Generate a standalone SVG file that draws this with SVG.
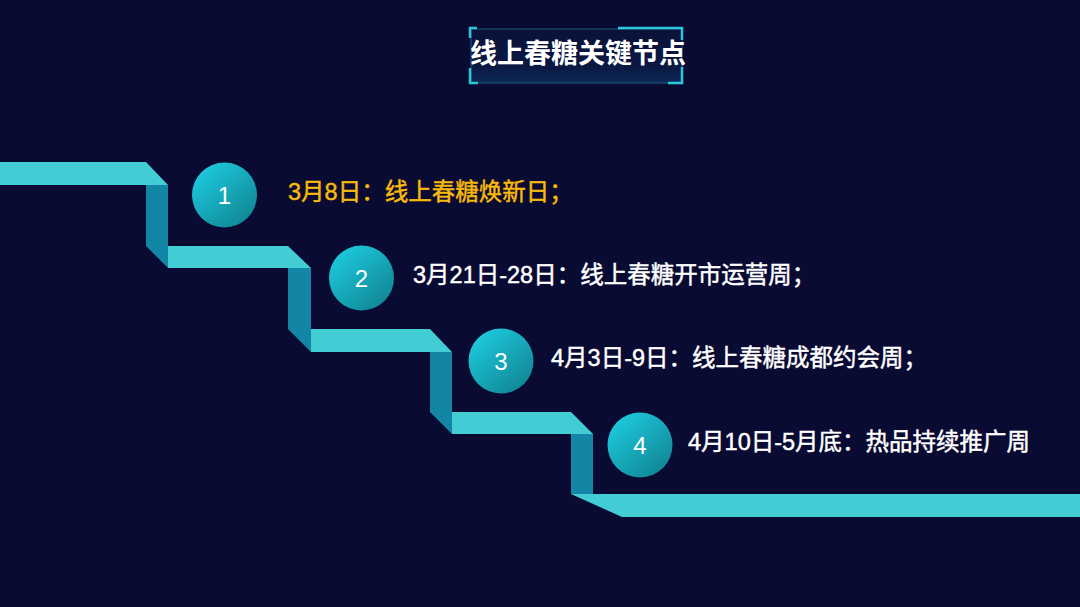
<svg xmlns="http://www.w3.org/2000/svg" width="1080" height="607" viewBox="0 0 1080 607">
  <defs>
    <linearGradient id="ballGrad" x1="0.15" y1="0.1" x2="0.85" y2="0.9">
      <stop offset="0" stop-color="#1DC8DC"/>
      <stop offset="1" stop-color="#108896"/>
    </linearGradient>
    <linearGradient id="boxGrad" x1="0" y1="0" x2="0" y2="1">
      <stop offset="0" stop-color="#0A1238"/>
      <stop offset="0.7" stop-color="#0B1842"/>
      <stop offset="1" stop-color="#0E2A58"/>
    </linearGradient>
    <style>
      .tread { fill: #42CDD4; }
      .riser { fill: #1386A6; }
      .ball { fill: url(#ballGrad); }
      .num { fill: #FFFFFF; font-family: "Liberation Sans", "Noto Sans CJK SC", sans-serif; font-size: 24px; text-anchor: middle; }
      .label { fill: #FFFFFF; stroke: #FFFFFF; stroke-width: 0.45; font-family: "Liberation Sans", "Noto Sans CJK SC", sans-serif; font-size: 23.5px; font-weight: 400; }
      .gold { fill: #F8BA0A; stroke: #F8BA0A; }
      .bracket { fill: none; stroke: #2BC6D8; stroke-width: 2.5; }
      .title { fill: #FFFFFF; font-family: "Noto Sans CJK SC", sans-serif; font-size: 27px; font-weight: bold; text-anchor: middle; }
    </style>
  </defs>
  <rect width="1080" height="607" fill="#0A0B33"/>

  <g id="title">
    <rect x="471" y="29" width="211" height="54" fill="url(#boxGrad)" stroke="#1A5A80" stroke-width="1"/>
    <path class="bracket" d="M470 38 V28 H477"/>
    <path class="bracket" d="M470 68 V83 H478"/>
    <path class="bracket" d="M618 28 H682 V40"/>
    <path class="bracket" d="M682 67 V83 H668"/>
    <text class="title" x="578" y="63">线上春糖关键节点</text>
  </g>

  <g id="stairs">
    <polygon class="tread" points="0,162 146,162 168,185 0,185"/>
    <polygon class="riser" points="146,185 168,185 168,268 146,246"/>
    <polygon class="tread" points="168,246 288,246 311,268 168,268"/>
    <polygon class="riser" points="288,268 311,268 311,352 288,329"/>
    <polygon class="tread" points="311,329 430,329 452,352 311,352"/>
    <polygon class="riser" points="430,352 452,352 452,434 430,412"/>
    <polygon class="tread" points="452,412 571,412 593,434 452,434"/>
    <polygon class="riser" points="571,434 593,434 593,494 571,494"/>
    <polygon class="tread" points="571,494 1080,494 1080,517 622,517"/>
  </g>

  <g id="node1">
    <circle class="ball" cx="224.5" cy="195" r="32.5"/>
    <text class="num" x="224.5" y="203.5">1</text>
    <text class="label gold" x="288" y="200">3月8日：线上春糖焕新日；</text>
  </g>
  <g id="node2">
    <circle class="ball" cx="361.5" cy="278" r="32.5"/>
    <text class="num" x="361.5" y="286.5">2</text>
    <text class="label" x="413" y="283">3月21日-28日：线上春糖开市运营周；</text>
  </g>
  <g id="node3">
    <circle class="ball" cx="501" cy="361" r="32.5"/>
    <text class="num" x="501" y="369.5">3</text>
    <text class="label" x="551" y="366">4月3日-9日：线上春糖成都约会周；</text>
  </g>
  <g id="node4">
    <circle class="ball" cx="640" cy="445" r="32.5"/>
    <text class="num" x="640" y="453.5">4</text>
    <text class="label" x="688" y="450">4月10日-5月底：热品持续推广周</text>
  </g>
</svg>
